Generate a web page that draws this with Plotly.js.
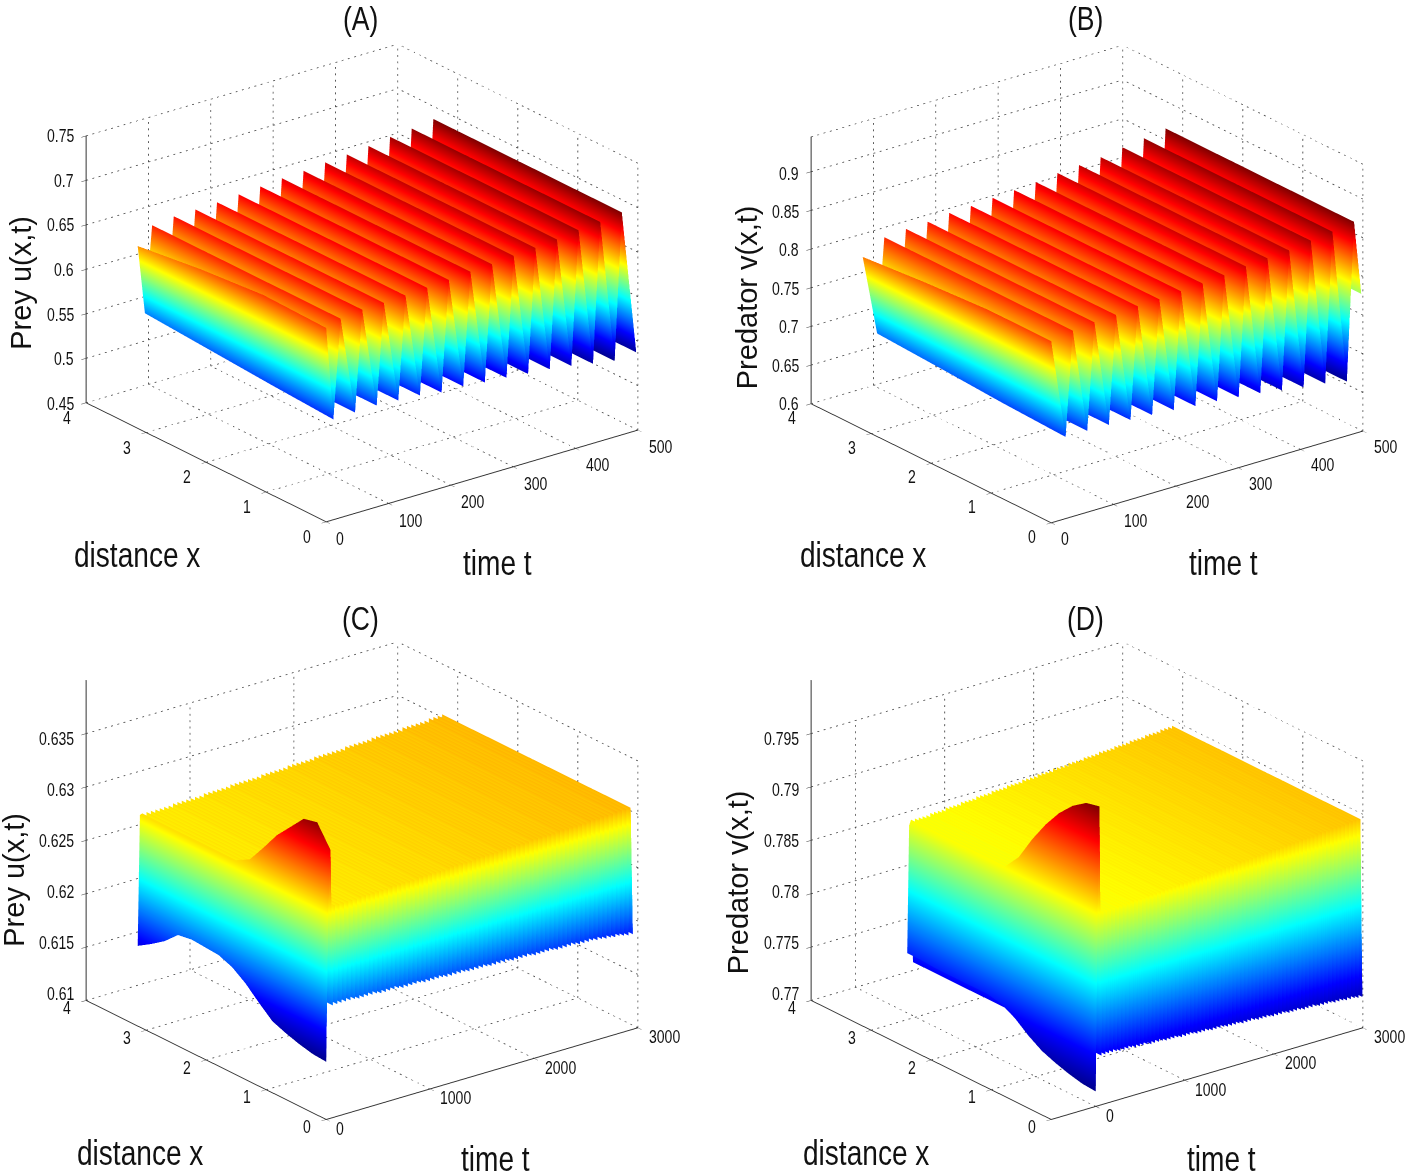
<!DOCTYPE html>
<html><head><meta charset="utf-8">
<script src="https://cdn.plot.ly/plotly-3.0.0.min.js"></script>
<style>html,body{margin:0;padding:0;background:#fff}#g{width:1406px;height:1175px}
.annotation-text{transform-box:fill-box;transform-origin:center;transform:scaleX(.78)}
.annotation[data-index="12"] .annotation-text,.annotation[data-index="13"] .annotation-text,.annotation[data-index="14"] .annotation-text,.annotation[data-index="15"] .annotation-text{transform:none}
</style>
</head><body><div id="g"></div>
<script>
// ---------- values ----------
const distanceA = [0, 1.047, 2.094, 3.141];
const firstRowsA = [[0.668,0.670,0.664,0.655],[0.5627,0.567,0.572,0.577]];
const crestA = [0.6736,0.6765,0.677,0.678,0.6797,0.6815,0.6834,0.6847,0.687,0.6887,0.6911,0.6943,0.6964,0.70];
const fallA = [0.6185,0.6202,0.6198,0.6195,0.6184,0.6192,0.6188,0.6185,0.6182,0.6181,0.6176,0.6168,0.6159,0.6189];
const troughA = [0.5633,0.5639,0.5625,0.5609,0.5571,0.5569,0.5541,0.5522,0.5494,0.5475,0.5441,0.5393,0.5353,0.5378];

const firstRowsB = [[0.835,0.835,0.83,0.823],[0.77,0.772,0.772,0.771],[0.7055,0.709,0.714,0.7185]];
const crestB = [0.8402,0.8427,0.8438,0.847,0.8478,0.8499,0.8518,0.8539,0.8574,0.8595,0.8615,0.8659,0.8693,0.8738];
const fallB = [0.7727,0.7736,0.7732,0.7739,0.7735,0.773,0.7729,0.7724,0.7727,0.7714,0.7703,0.7709,0.7697];
const troughB = [0.7051,0.7045,0.7026,0.7008,0.6991,0.696,0.694,0.6909,0.6879,0.6832,0.679,0.6758,0.6701,0.778];

const distanceC = [0,0.224,0.449,0.673,0.898,1.122,1.346,1.571,1.795,2.019,2.244,2.468,2.692,2.917,3.141];
const earlyRowsC = [
 [0.6154,0.6155,0.6158,0.6162,0.6167,0.6178,0.619,0.6199,0.6204,0.6205,0.6206,0.6204,0.6192,0.6183,0.6175],
 [0.6298,0.6298,0.6298,0.6298,0.6298,0.6298,0.6298,0.6298,0.6298,0.6298,0.6298,0.6298,0.6298,0.6298,0.6297],
 [0.6351,0.6371,0.6368,0.6354,0.634,0.6322,0.6305,0.6298,0.6298,0.6298,0.6298,0.6298,0.6298,0.6298,0.6298],
 [0.6205,0.6205,0.6205,0.6205,0.6205,0.6205,0.6205,0.6205,0.6205,0.6205,0.6205,0.6205,0.6205,0.6205,0.6205]];
const crestC = [0.6298,0.6298,0.6298,0.6298,0.6298,0.6298,0.6299,0.6299,0.6299,0.6299,0.6299,0.6299,0.6299,0.63,0.63,0.63,0.63,0.63,0.63,0.6301,0.6301,0.6301,0.6301,0.6301,0.6301,0.6301,0.6302,0.6302,0.6302,0.6302,0.6302,0.6302,0.6303,0.6303,0.6303,0.6303,0.6303,0.6303,0.6304,0.6304,0.6304,0.6304,0.6304,0.6304,0.6304,0.6305,0.6305,0.6305,0.6305,0.6305,0.6305,0.6306,0.6306,0.6306,0.6306,0.6306,0.6306,0.6306,0.6307,0.6307,0.6307,0.6307,0.6307,0.6307,0.6308,0.6308,0.6308,0.6308,0.6308];
const troughC = [0.6205,0.6205,0.6205,0.6205,0.6205,0.6204,0.6204,0.6204,0.6204,0.6204,0.6203,0.6203,0.6203,0.6203,0.6203,0.6202,0.6202,0.6202,0.6202,0.6202,0.6201,0.6201,0.6201,0.6201,0.6201,0.62,0.62,0.62,0.62,0.62,0.6199,0.6199,0.6199,0.6199,0.6199,0.6198,0.6198,0.6198,0.6198,0.6198,0.6197,0.6197,0.6197,0.6197,0.6197,0.6196,0.6196,0.6196,0.6196,0.6196,0.6195,0.6195,0.6195,0.6195,0.6195,0.6194,0.6194,0.6194,0.6194,0.6193,0.6193,0.6192,0.6192,0.6191,0.6191,0.619,0.6189,0.6189];

const earlyRowsD = [
 [0.7714,0.7715,0.7718,0.7722,0.7727,0.7735,0.7745,0.7752,0.7755,0.7755,0.7755,0.7755,0.7755,0.7756,0.7756],
 [0.7883,0.7882,0.7882,0.7881,0.7881,0.788,0.7879,0.7879,0.7878,0.7878,0.7877,0.7877,0.7876,0.7876,0.7875],
 [0.798,0.7977,0.7968,0.7955,0.7938,0.7918,0.7895,0.788,0.788,0.788,0.788,0.788,0.788,0.788,0.788],
 [0.7746,0.7746,0.7746,0.7746,0.7746,0.7746,0.7746,0.7746,0.7746,0.7746,0.7746,0.7746,0.7746,0.7746,0.7746]];
const crestD = [0.788,0.788,0.788,0.788,0.7881,0.7881,0.7881,0.7881,0.7882,0.7882,0.7882,0.7882,0.7883,0.7883,0.7883,0.7883,0.7884,0.7884,0.7884,0.7884,0.7885,0.7885,0.7885,0.7885,0.7886,0.7886,0.7886,0.7886,0.7887,0.7887,0.7887,0.7887,0.7888,0.7888,0.7888,0.7888,0.7889,0.7889,0.7889,0.7889,0.789,0.789,0.789,0.789,0.7891,0.7891,0.7891,0.7891,0.7892,0.7892,0.7892,0.7892,0.7893,0.7893,0.7893,0.7893,0.7894,0.7894,0.7894,0.7894,0.7895,0.7895,0.7895,0.7895,0.7896,0.7896,0.7896,0.7896];
const troughD = [0.7746,0.7746,0.7746,0.7746,0.7745,0.7745,0.7745,0.7745,0.7744,0.7744,0.7744,0.7744,0.7743,0.7743,0.7743,0.7743,0.7742,0.7742,0.7742,0.7742,0.7741,0.7741,0.7741,0.7741,0.774,0.774,0.774,0.774,0.7739,0.7739,0.7739,0.7739,0.7738,0.7738,0.7738,0.7738,0.7737,0.7737,0.7737,0.7737,0.7736,0.7736,0.7736,0.7736,0.7735,0.7735,0.7735,0.7735,0.7734,0.7734,0.7734,0.7734,0.7733,0.7733,0.7733,0.7733,0.7732,0.7732,0.7732,0.7732,0.7731,0.7731,0.7731,0.773,0.773,0.773,0.7729,0.7729];

const xTicks = [0,1,2,3,4];
const tTicksSmall = [0,100,200,300,400,500];
const tTicksLarge = [0,1000,2000,3000];
const zTicksA = [0.45,0.5,0.55,0.6,0.65,0.7,0.75];
const zTicksB = [0.6,0.65,0.7,0.75,0.8,0.85,0.9];
const zTicksC = [0.61,0.615,0.62,0.625,0.63,0.635];
const zTicksD = [0.77,0.775,0.78,0.785,0.79,0.795];
const titles = ['(A)','(B)','(C)','(D)'];
const zTitles = ['Prey u(x,t)','Predator v(x,t)','Prey u(x,t)','Predator v(x,t)'];

// ---------- assembling ----------
const jet = [[0,'#00008f'],[0.125,'#0000ff'],[0.375,'#00ffff'],[0.625,'#ffff00'],[0.875,'#ff0000'],[1,'#800000']];
const W=1406,H=1175;
const flat=(v,n)=>Array(n).fill(v);
function sawRows(first,crest,fall,trough,n){
  const rows=first.slice();
  crest.forEach((c,i)=>{rows.push(flat(c,n));if(i<fall.length)rows.push(flat(fall[i],n));rows.push(flat(trough[i],n));});
  return rows;
}
const STEP_SHORT=11.57;
function plateau(early,crest,trough,n){
  const rows=early.slice();
  crest.forEach((c,i)=>{rows.push(flat(c,n));rows.push(flat(trough[i],n));});
  const step=2995/(rows.length-1);      // evenly spaced time samples keep the surface light to draw
  return {rows,ts:rows.map((_,i)=>i*step)};
}
const transpose=m=>m[0].map((_,j)=>m.map(r=>r[j]));
const rowsA=sawRows(firstRowsA,crestA,fallA,troughA,4);
const rowsB=sawRows(firstRowsB,crestB,fallB,troughB,4);
const timeA=rowsA.map((_,i)=>i*STEP_SHORT), timeB=rowsB.map((_,i)=>i*STEP_SHORT);
const pC=plateau(earlyRowsC,crestC,troughC,15);
const pD=plateau(earlyRowsD,crestD,troughD,15);

const panels=[
 {id:'scene', t:timeA,x:distanceA,rows:rowsA,cmin:0.535,cmax:0.70,tR:[0,500],tT:tTicksSmall,zR:[0.45,0.75],zT:zTicksA,zTop:0.75,cx:361.5,cy:282.5,w:580,fx:325,fy:522,zPx:268/0.3,zTxt:['0.45','0.5','0.55','0.6','0.65','0.7','0.75']},
 {id:'scene2',t:timeB,x:distanceA,rows:rowsB,cmin:0.668,cmax:0.874,tR:[0,500],tT:tTicksSmall,zR:[0.6,0.945],zT:zTicksB,zTop:0.945,cx:1086.5,cy:284,w:580,fx:1050,fy:522,zPx:768,zTxt:['0.6','0.65','0.7','0.75','0.8','0.85','0.9']},
 {id:'scene3',t:pC.ts,x:distanceC,rows:pC.rows,cmin:0.6154,cmax:0.6375,tR:[0,3000],tT:tTicksLarge,zR:[0.61,0.64],zT:zTicksC,zTop:0.635,cx:361.5,cy:853.5,w:580,fx:325,fy:1112,zPx:10200,zTxt:['0.61','0.615','0.62','0.625','0.63','0.635']},
 {id:'scene4',t:pD.ts,x:distanceC,rows:pD.rows,cmin:0.7714,cmax:0.798,tR:[-500,3000],tT:tTicksLarge,zR:[0.77,0.80],zT:zTicksD,zTop:0.795,cx:1086.5,cy:853.5,w:580,fx:1050,fy:1112,zPx:10200,zTxt:['0.77','0.775','0.78','0.785','0.79','0.795']}
];
const traces=[],layout={width:W,height:H,margin:{l:0,r:0,t:0,b:0},paper_bgcolor:'#fff',showlegend:false,hovermode:false,annotations:[]};
const h=560;
const EYE_R=1.424, ZOOM=1.405;
const EYE={x:-0.564*EYE_R,y:-0.732*EYE_R,z:0.382*EYE_R};
const font='Liberation Sans';
const ann=(text,x,y,size,family,rot,anchor)=>layout.annotations.push({text,x:x/W,y:1-y/H,xref:'paper',yref:'paper',showarrow:false,xanchor:anchor||'center',yanchor:'middle',textangle:rot||0,font:{family,size,color:'#111'}});
[[360,18],[1085,18],[360,618],[1085,618]].forEach((q,i)=>ann(titles[i],q[0],q[1],34,font));
[[137,555],[863,555],[140,1153],[866,1153]].forEach(q=>ann('distance x',q[0],q[1],36,font));
[[498,563],[1223,563],[495,1159],[1221,1159]].forEach(q=>ann('time t',q[0],q[1],36,font));
[[20,283],[746,298],[13,880],[737,883]].forEach((q,i)=>ann(zTitles[i],q[0],q[1],29,font,-90));

panels.forEach((p,i)=>{
  traces.push({type:'surface',scene:p.id,x:p.t,y:p.x,z:transpose(p.rows),cmin:p.cmin,cmax:p.cmax,colorscale:jet,showscale:false,hoverinfo:'skip',
    lighting:{ambient:1,diffuse:0,specular:0,roughness:1,fresnel:0},contours:{x:{highlight:false},y:{highlight:false},z:{highlight:false}}});
  const gx=[],gy=[],gz=[];
  const seg=(a,b,n)=>{ n=n||42; for(let k=0;k<n;k++){ const f0=k/n,f1=(k+0.3)/n;
    const lerp=(f,q)=>a[q]+(b[q]-a[q])*f;
    gx.push(lerp(f0,0),lerp(f1,0),null);gy.push(lerp(f0,1),lerp(f1,1),null);gz.push(lerp(f0,2),lerp(f1,2),null);} };
  const [t0,t1]=p.tR,z0=p.zR[0],z1=p.zTop;
  const tLines=p.tT.filter(t=>t!==t1).concat(t1);
  tLines.forEach(t=>{seg([t,0,z0],[t,4,z0]);seg([t,4,z0],[t,4,z1]);});
  xTicks.forEach(x=>{seg([t0,x,z0],[t1,x,z0],50);seg([t1,x,z0],[t1,x,z1]);});
  const zLines=p.zT.filter(z=>z!==z1).concat(z1);
  zLines.forEach(z=>{seg([t0,4,z],[t1,4,z],50);seg([t1,0,z],[t1,4,z]);});
  traces.push({type:'scatter3d',scene:p.id,mode:'lines',x:gx,y:gy,z:gz,connectgaps:false,line:{color:'#444',width:1.6},hoverinfo:'skip',showlegend:false});
  const ax={showgrid:false,zeroline:false,showbackground:false,showspikes:false,showline:true,linecolor:'#333',linewidth:2,ticks:'outside',ticklen:6,tickcolor:'#333',tickwidth:1,tickmode:'array',showticklabels:false,title:{text:''}};
  layout[p.id]={
    domain:{x:[(p.cx-p.w/2)/W,(p.cx+p.w/2)/W],y:[1-(p.cy+h/2)/H,1-(p.cy-h/2)/H]},
    camera:{eye:EYE,center:{x:0,y:0,z:0},up:{x:0,y:0,z:1},projection:{type:'orthographic'}},
    aspectmode:'manual',
    aspectratio:{x:ZOOM,y:ZOOM,z:ZOOM*0.734*(p.zR[1]-p.zR[0])/((p.id==='scene3'||p.id==='scene4')?0.025:(p.zR[1]-p.zR[0]))},
    xaxis:{...ax,range:p.tR,tickvals:p.tT,ticktext:p.tT.map(String)},
    yaxis:{...ax,range:[0,4],tickvals:xTicks,ticktext:xTicks.map(String)},
    zaxis:{...ax,range:p.zR,tickvals:p.zT,ticktext:p.zTxt}
  };
  const tSpan=t1-t0, tx=t=>p.fx+313*(t-t0)/tSpan, ty=t=>p.fy-92*(t-t0)/tSpan;
  p.zT.forEach((z,k)=>ann(p.zTxt[k],p.fx-240-9,p.fy-119-(z-z0)*p.zPx,18,font,0,'right'));
  xTicks.forEach(x=>ann(String(x),p.fx-60*x-18,p.fy-29.75*x+14,18,font));
  p.tT.forEach(t=>ann(String(t),tx(t)+9,ty(t)+16,18,font,0,'left'));
});
setTimeout(()=>Plotly.newPlot('g',traces,layout,{displayModeBar:false}),100);
</script></body></html>
